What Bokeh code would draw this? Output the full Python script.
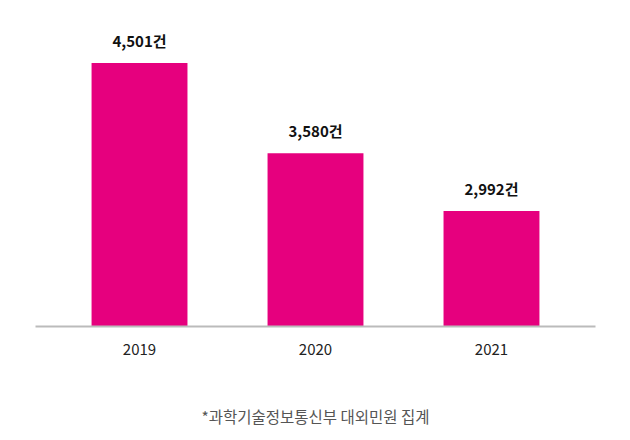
from bokeh.plotting import figure
from bokeh.models import FactorRange, Range1d, ColumnDataSource
from bokeh.core.properties import value
from bokeh.embed import file_html
from bokeh.resources import INLINE

years = ["2019", "2020", "2021"]
counts = [4501, 3580, 2992]
labels = ["4,501건", "3,580건", "2,992건"]
note = "*과학기술정보통신부 대외민원 집계"

FONT = "Noto Sans CJK KR"
Y0 = 1817
Y1 = 4933

src = ColumnDataSource(dict(x=years, top=counts, label=labels))

p = figure(
    width=614, height=430,
    x_range=FactorRange(factors=years, range_padding=0.0607),
    y_range=Range1d(Y0, Y1),
    output_backend="svg", toolbar_location=None,
    min_border_left=35, min_border_right=19, min_border_top=20,
    min_border_bottom=104,
)

p.vbar(x="x", top="top", bottom=Y0, width=0.545, color="#E6007E", line_color=None, source=src)
p.text(x="x", y="top", text="label", source=src, text_align="center",
       text_baseline="bottom", y_offset=-12, text_font=value(FONT),
       text_font_size="15px", text_font_style="bold", text_color="#111111")

p.yaxis.visible = False
p.xgrid.grid_line_color = None
p.ygrid.grid_line_color = None
p.outline_line_color = None
xa = p.xaxis[0]
xa.axis_line_color = "#BBBBBB"
xa.axis_line_width = 2
xa.major_tick_line_color = None
xa.minor_tick_line_color = None
xa.major_tick_out = 0
xa.major_tick_in = 0
xa.major_label_standoff = 17
xa.major_label_text_font = FONT
xa.major_label_text_font_size = "15px"
xa.major_label_text_color = "#222222"
xa.axis_label = note
xa.axis_label_standoff = 47
xa.axis_label_text_font = FONT
xa.axis_label_text_font_size = "15.5px"
xa.axis_label_text_font_style = "normal"
xa.axis_label_text_color = "#555555"

open("out.html", "w").write(file_html(p, INLINE))
